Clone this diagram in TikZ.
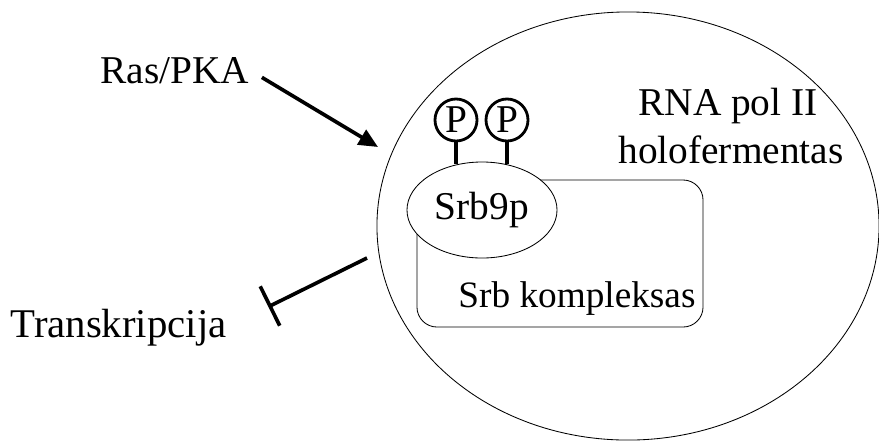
\documentclass[tikz,border=0pt]{standalone}
\usepackage{fontspec}
\setmainfont{Liberation Serif}
\usetikzlibrary{shapes.geometric,arrows.meta}

\begin{document}
\begin{tikzpicture}[x=0.025cm,y=-0.025cm,thick,font=\fontsize{28}{34}\selectfont]
  \tikzstyle{thinline}=[draw, line width=0.6pt]
  \tikzstyle{txt}=[inner sep=0pt]
  \tikzstyle{phos}=[draw, circle, line width=2pt, minimum size=1.05cm, inner sep=0pt]
  \tikzstyle{stem}=[line width=2.8pt]
  \tikzstyle{act}=[line width=2.6pt, -{Triangle[length=0.48cm,width=0.42cm]}]
  \tikzstyle{inh}=[line width=2.6pt, -{Bar[width=1.1cm]}]

  \useasboundingbox (0,0) rectangle (879,443);

  % Holoenzyme, Srb complex and Srb9p
  \node[ellipse, thinline, minimum width=12.55cm, minimum height=10.7cm] (holo) at (628,226) {};
  \node[thinline, rounded corners=0.5cm, minimum width=7.15cm, minimum height=3.675cm] (srbkompl) at (560,253.5) {};
  \node[ellipse, thinline, fill=white, minimum width=3.75cm, minimum height=2.4cm, inner sep=0pt] (srb9) at (482,210) {Srb9p};

  % Phosphates on Srb9p
  \node[phos] (p1) at (456,120) {P};
  \node[phos] (p2) at (507,120) {P};
  \draw[stem] (p1.south) -- (p1.south |- srb9.119);
  \draw[stem] (p2.south) -- (p2.south |- srb9.62);

  % Labels
  \node[txt, anchor=base] (rna) at (728,115) {RNA pol II};
  \node[txt, anchor=base] (holotxt) at (731,163) {holofermentas};
  \node[txt, anchor=base, font=\fontsize{26.5}{32}\selectfont] (kompltxt) at (577,307) {Srb kompleksas};
  \node[txt, anchor=base west] (ras) at (100,83) {Ras/PKA};
  \node[txt, anchor=base west, font=\fontsize{29}{34}\selectfont] (transk) at (10,337) {Transkripcija};

  % Regulation
  \coordinate (rastip) at (378,147);
  \coordinate (inhfrom) at (367,258);
  \draw[act, shorten <=0.35cm] (ras.east) -- (rastip);
  \draw[inh, shorten >=1.15cm] (inhfrom) -- (transk.east);
\end{tikzpicture}
\end{document}
